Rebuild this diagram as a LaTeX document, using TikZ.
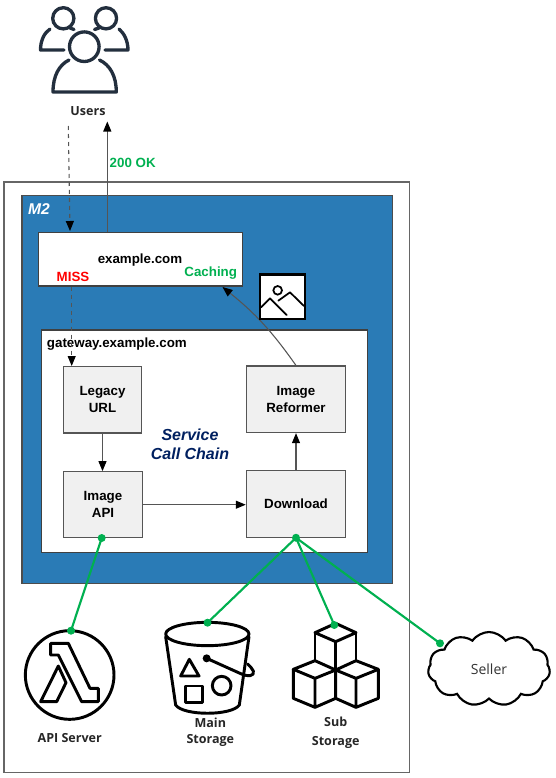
\documentclass[tikz,border=0pt]{standalone}
\usepackage{fontspec}
\setmainfont{Liberation Sans}
\newfontfamily\labelfont{Open Sans}
\usetikzlibrary{
	arrows.meta,
	shapes.symbols
}
\definecolor{zoneblue}{HTML}{2A7BB6}
\definecolor{okgreen}{HTML}{00B050}
\definecolor{navytext}{HTML}{002060}
\definecolor{usersink}{HTML}{232F3E}
\definecolor{edgegray}{HTML}{555555}
\tikzset{pxsize/.style 2 args={minimum width=#1*0.75pt, minimum height=#2*0.75pt, inner sep=0pt}}
\tikzstyle{arrow} = [edgegray, line width=0.8pt, -{Stealth[black,inset=0pt,length=7.5pt,width=6pt]}]
\tikzstyle{link} = [okgreen, line width=1.6pt]
\tikzstyle{svcbox} = [draw=edgegray, line width=0.9pt, fill=black!6, align=center, font=\bfseries\fontsize{10}{12.5}\selectfont]
\tikzstyle{whitebox} = [draw=black!75, line width=0.9pt, fill=white]
\tikzstyle{boldtext} = [font=\bfseries\fontsize{10}{12.5}\selectfont, inner sep=0pt]
\tikzstyle{caption} = [font=\labelfont\bfseries\fontsize{9.4}{12}\selectfont, align=center, inner sep=0pt, text=black!85]
\tikzstyle{icon} = [line width=2.2pt, line join=round, line cap=round]

\begin{document}
\begin{tikzpicture}[x=0.75pt, y=-0.75pt]
	\useasboundingbox (0,0) rectangle (556,778);

	% zones
	\node[draw=black!60, line width=0.9pt, pxsize={405.3}{590.3}] (outer) at (206.7,477.2) {};
	\node[draw=black!70, line width=0.9pt, fill=zoneblue, pxsize={370.3}{387.8}] (zone) at (207.2,389.4) {};
	\node[whitebox, pxsize={204.4}{53.3}] (example) at (140.5,259.3) {};
	\node[whitebox, pxsize={325.6}{222.3}] (gateway) at (204.5,441.2) {};

	% service boxes
	\node[svcbox, pxsize={78.4}{66.3}] (legacy) at (102.5,399.8) {Legacy\\URL};
	\node[svcbox, pxsize={79.3}{66}] (imageapi) at (103,504.7) {Image\\API};
	\node[svcbox, pxsize={99.3}{66.3}] (download) at (296,504) {Download};
	\node[svcbox, pxsize={99.3}{66.5}] (reformer) at (296,399.3) {Image\\Reformer};
	\node[draw=black, cloud, cloud puffs=11, cloud puff arc=110, aspect=1.6, line width=1.6pt, fill=white, pxsize={122}{74}, font=\labelfont\fontsize{10.5}{12}\selectfont, text=black!80] (seller) at (489,669) {Seller};

	% labels
	\node[caption] (users) at (88,111.5) {Users};
	\node[boldtext] (examplelabel) at (140,260) {example.com};
	\node[boldtext, anchor=west] (gatewaylabel) at (46.7,344.5) {gateway.example.com};
	\node[boldtext, text=okgreen] (oklabel) at (132.7,163) {200 OK};
	\node[boldtext, text=red] (misslabel) at (73,277) {MISS};
	\node[boldtext, text=okgreen] (cachelabel) at (210.7,273.5) {Caching};
	\node[font=\bfseries\itshape\fontsize{11.7}{14}\selectfont, text=white, inner sep=0pt] (zonelabel) at (39,209.5) {M2};
	\node[font=\bfseries\itshape\fontsize{12}{14.5}\selectfont, text=navytext, align=center, inner sep=0pt] (chainlabel) at (190,444) {Service\\Call Chain};
	\node[caption] (apilabel) at (69.7,738.3) {API Server};
	\node[caption] (mainlabel) at (210.3,732.5) {Main\\Storage};
	\node[caption, font=\labelfont\bfseries\fontsize{9.4}{14.5}\selectfont] (sublabel) at (335.7,732.5) {Sub\\Storage};

	% free ends of the connectors
	\coordinate (usersout) at (68.3,126);
	\coordinate (usersin) at (70,231);
	\coordinate (usersback) at (107.3,121.5);
	\coordinate (exampleup) at (107.3,232);
	\coordinate (missout) at (71.7,286.5);
	\coordinate (missin) at (71.7,366);
	\coordinate (cachein) at (222.5,287);
	\coordinate (lambdatop) at (71,630.7);
	\coordinate (buckettop) at (207.5,622.7);
	\coordinate (cubestop) at (334.3,625);
	\coordinate (sellerin) at (440,643.3);
	\coordinate (apidot) at (101.7,538);

	% request and response
	\draw[arrow, dashed] (usersout) -- (usersin);
	\draw[arrow] (exampleup) -- (usersback);
	\draw[arrow, dashed] (missout) -- (missin);

	% call chain
	\draw[arrow] (legacy.south) -- (imageapi.north -| legacy.south);
	\draw[arrow] (imageapi.east) -- (download.west |- imageapi.east);
	\draw[arrow] (download.north) -- (reformer.south);
	\draw[arrow] (reformer.north) to[bend right=8] (cachein);

	% storage links
	\draw[link] (apidot) -- (lambdatop);
	\draw[link] (download.south) -- (buckettop);
	\draw[link] (download.south) -- (cubestop);
	\draw[link] (download.south) -- (sellerin);

	% users
	\begin{scope}[icon, usersink, line width=2.5pt]
		\draw (84.3,46.7) circle (14.8);
		\draw (63.3,18.3) circle (10.6);
		\draw (106,18.3) circle (10.6);
		\draw (69,60) .. controls (59,65) and (53,76) .. (53,92) -- (116.3,92) .. controls (116.3,76) and (110,65) .. (99.5,60);
		\draw (50,29) .. controls (44,33) and (40.5,41) .. (40.5,50) -- (64,50);
		\draw (74,29.5) -- (70,28);
		\draw (94.5,29.5) -- (99,28);
		\draw (119,29) .. controls (124,33) and (128,41) .. (128,50) -- (105,50);
	\end{scope}

	% image icon
	\begin{scope}[shift={(200,230)}, x=0.25pt, y=-0.25pt]
		\draw[line width=1.9pt, fill=white] (180,133) rectangle (315,267);
		\draw[line width=1.3pt] (233,181) circle (13);
		\draw[line width=1.3pt, line join=round, line cap=round] (183,232) -- (210,205) -- (260,255);
		\draw[line width=1.3pt, line join=round, line cap=round] (235,212) -- (270,187) -- (312,228);
	\end{scope}

	% lambda
	\begin{scope}[shift={(0,590)}, x=0.25pt, y=-0.25pt, icon]
		\draw (209,255) circle (133);
		\draw (152,160) -- (205,160) -- (270,295) -- (295,295) -- (295,335) -- (245,335) -- (175,195) -- (152,195) -- cycle;
		\draw (122,335) -- (175,228) -- (198,278) -- (170,335) -- cycle;
	\end{scope}

	% bucket
	\begin{scope}[shift={(0,590)}, x=0.25pt, y=-0.25pt, icon]
		\draw (622,132) ellipse (125 and 35);
		\draw (497,140) -- (527,345) .. controls (550,378) and (695,378) .. (718,345) -- (747,140);
		\draw (568,208) -- (597,258) -- (542,258) -- cycle;
		\draw (557,288) rectangle (608,338);
		\draw (665,287) circle (28);
		\fill (620,205) circle (12);
		\draw (620,205) -- (720,250) .. controls (745,262) and (765,258) .. (760,243) .. controls (757,234) and (748,228) .. (743,222);
	\end{scope}

	% cubes
	\begin{scope}[shift={(270,590)}, x=0.25pt, y=-0.25pt, icon]
		\draw (135,128) -- (197,100) -- (258,128) -- (197,155) -- cycle;
		\draw (135,128) -- (135,212) (197,155) -- (197,240) (258,128) -- (258,212);
		\draw (70,238) -- (135,212) -- (197,240) -- (135,265) -- cycle;
		\draw (70,238) -- (70,325) -- (135,352) -- (197,325) -- (197,240) (135,265) -- (135,352);
		\draw (197,240) -- (258,212) -- (325,238) -- (258,265) -- cycle;
		\draw (325,238) -- (325,325) -- (258,352) -- (197,325) (258,265) -- (258,352);
	\end{scope}

	% link dots, drawn over the icons
	\foreach \dotname in {apidot,lambdatop,buckettop,cubestop,sellerin} {
			\fill[okgreen] (\dotname) circle (4);
		}
	\fill[okgreen] (download.south) circle (4);

\end{tikzpicture}
\end{document}
